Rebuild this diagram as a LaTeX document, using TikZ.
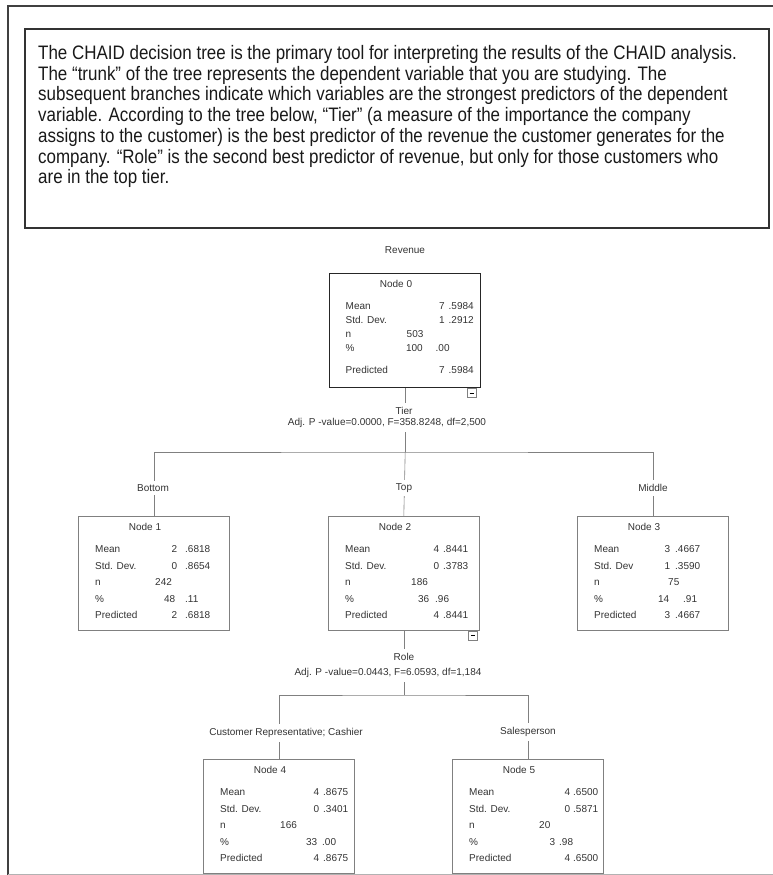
\documentclass[tikz,border=0pt]{standalone}
\usepackage{fontspec}
\setmainfont{Liberation Sans}
\newfontfamily\paraFont[FakeStretch=0.87]{Liberation Sans}
\newcommand\srow[5]{\makebox[0pt][l]{#1}\makebox[0pt][l]{\hspace*{#2pt}\makebox[0pt][r]{#3}}\makebox[0pt][l]{\hspace*{#4pt}#5}}
\newcommand\statblock[1]{\parbox[t]{135pt}{\fontsize{10}{16.5}\selectfont\raggedright #1}}
\tikzset{
  treetext/.style={font=\fontsize{10}{12}\selectfont, text=black!80, inner sep=0pt},
  box/.style={draw=black!50, line width=0.6pt, minimum width=151pt, minimum height=114pt, inner sep=0pt, anchor=north west},
  rootbox/.style={box, draw=black!85, line width=1.4pt},
  conn/.style={draw=black!50, line width=0.6pt},
  branchlab/.style={treetext, fill=white, inner xsep=2pt, inner ysep=4pt},
  minusbtn/.style={draw=black!50, line width=0.5pt, minimum size=9pt, inner sep=0pt, anchor=north east},
  stats/.style={treetext, anchor=base west},
  title/.style={treetext}
}
\begin{document}
\begin{tikzpicture}[x=1pt,y=-1pt]
\useasboundingbox (0,0) rectangle (773,875);
% outer frame
\draw[black!75, line width=1.3pt] (773,6) -- (8,6) -- (8,875);
\draw[black!30, line width=0.8pt] (8,874) -- (773,874);
% text box
\draw[black!80, line width=1.5pt] (25,29) rectangle (769,228);
\node[inner sep=0pt, anchor=base west, text=black!90] (para) at (38,59.6) {\parbox[t]{730pt}{\paraFont\fontsize{19.5}{20.7}\selectfont
The CHAID decision tree is the primary tool for interpreting the results of the CHAID analysis.\\
The “trunk” of the tree represents the dependent variable that you are studying. The\\
subsequent branches indicate which variables are the strongest predictors of the dependent\\
variable. According to the tree below, “Tier” (a measure of the importance the company\\
assigns to the customer) is the best predictor of the revenue the customer generates for the\\
company. “Role” is the second best predictor of revenue, but only for those customers who\\
are in the top tier.}};

% ---------- tree boxes ----------
\node[rootbox] (n0) at (329,273) {};
\node[box] (n1) at (78,516) {};
\node[box] (n2) at (328,516) {};
\node[box] (n3) at (577,516) {};
\node[box] (n4) at (203,759) {};
\node[box] (n5) at (452,759) {};

\begin{scope}[shift={(329,273)}]
\node[title] (n0t) at (67,11) {Node 0};
\node[treetext, anchor=base west] (n0s) at (16,36.6) {\srow{Mean}{99}{7}{103}{.5984}};
\node[treetext, anchor=base west] (n0d) at (16,50.6) {\srow{Std. Dev.}{99}{1}{103}{.2912}};
\node[treetext, anchor=base west] (n0n) at (16,64.6) {\srow{n}{0}{}{61}{503}};
\node[treetext, anchor=base west] (n0p) at (16,78.6) {\srow{\%}{77}{100}{90}{.00}};
\node[treetext, anchor=base west] (n0r) at (16,100.6) {\srow{Predicted}{99}{7}{103}{.5984}};
\end{scope}

\begin{scope}[shift={(78,516)}]
\node[title] (n1t) at (67,11) {Node 1};
\node[stats] (n1s) at (17,36.6) {\statblock{%
\srow{Mean}{82}{2}{90}{.6818}\\
\srow{Std. Dev.}{82}{0}{90}{.8654}\\
\srow{n}{0}{}{60}{242}\\
\srow{\%}{80}{48}{90}{.11}\\
\srow{Predicted}{82}{2}{90}{.6818}}};
\end{scope}

\begin{scope}[shift={(328,516)}]
\node[title] (n2t) at (67,11) {Node 2};
\node[stats] (n2s) at (17,36.6) {\statblock{%
\srow{Mean}{94}{4}{98}{.8441}\\
\srow{Std. Dev.}{94}{0}{98}{.3783}\\
\srow{n}{0}{}{66}{186}\\
\srow{\%}{84}{36}{90}{.96}\\
\srow{Predicted}{94}{4}{98}{.8441}}};
\end{scope}

\begin{scope}[shift={(577,516)}]
\node[title] (n3t) at (67,11) {Node 3};
\node[stats] (n3s) at (17,36.6) {\statblock{%
\srow{Mean}{76}{3}{81}{.4667}\\
\srow{Std. Dev}{76}{1}{81}{.3590}\\
\srow{n}{0}{}{74}{75}\\
\srow{\%}{75}{14}{89}{.91}\\
\srow{Predicted}{76}{3}{81}{.4667}}};
\end{scope}

\begin{scope}[shift={(203,759)}]
\node[title] (n4t) at (67,11) {Node 4};
\node[stats] (n4s) at (17,36.6) {\statblock{%
\srow{Mean}{99}{4}{103}{.8675}\\
\srow{Std. Dev.}{99}{0}{103}{.3401}\\
\srow{n}{0}{}{60}{166}\\
\srow{\%}{97}{33}{102}{.00}\\
\srow{Predicted}{99}{4}{103}{.8675}}};
\end{scope}

\begin{scope}[shift={(452,759)}]
\node[title] (n5t) at (67,11) {Node 5};
\node[stats] (n5s) at (17,36.6) {\statblock{%
\srow{Mean}{101}{4}{104}{.6500}\\
\srow{Std. Dev.}{101}{0}{104}{.5871}\\
\srow{n}{0}{}{70}{20}\\
\srow{\%}{86}{3}{90}{.98}\\
\srow{Predicted}{101}{4}{104}{.6500}}};
\end{scope}

% collapse buttons
\node[minusbtn] (n0m) at ([xshift=-5pt]n0.south east) {\rule{4pt}{0.6pt}};
\node[minusbtn] (n2m) at ([xshift=-2pt]n2.south east) {\rule{4pt}{0.6pt}};

% ---------- connectors ----------
\coordinate (lvl1) at (0,452);
\coordinate (lvl2) at (0,695);
\coordinate (h1) at (n0.south |- lvl1);
\coordinate (h2) at (n2.south |- lvl2);
\draw[conn] (n0.south) -- (h1);
\draw[conn] (n1.north) |- (h1) -| (n3.north);
\draw[conn] (h1) -- (n2.north);
\draw[conn] (n2.south) -- (h2);
\draw[conn] (n4.north) |- (h2) -| (n5.north);

% ---------- labels ----------
\node[treetext] (rev) at (405,250) {Revenue};
\node[branchlab] (tier) at (404,411) {Tier};
\node[branchlab] (tierp) at (387,423) {Adj. P -value=0.0000, F=358.8248, df=2,500};
\node[branchlab] (lb1) at (153,488) {Bottom};
\node[branchlab] (lb2) at (404,488) {Top};
\node[branchlab] (lb3) at (653,488) {Middle};
\node[branchlab] (role) at (404,657) {Role};
\node[branchlab] (rolep) at (388,673) {Adj. P -value=0.0443, F=6.0593, df=1,184};
\node[branchlab] (lb4) at (286,733) {Customer Representative; Cashier};
\node[branchlab] (lb5) at (528,732) {Salesperson};
\end{tikzpicture}
\end{document}
